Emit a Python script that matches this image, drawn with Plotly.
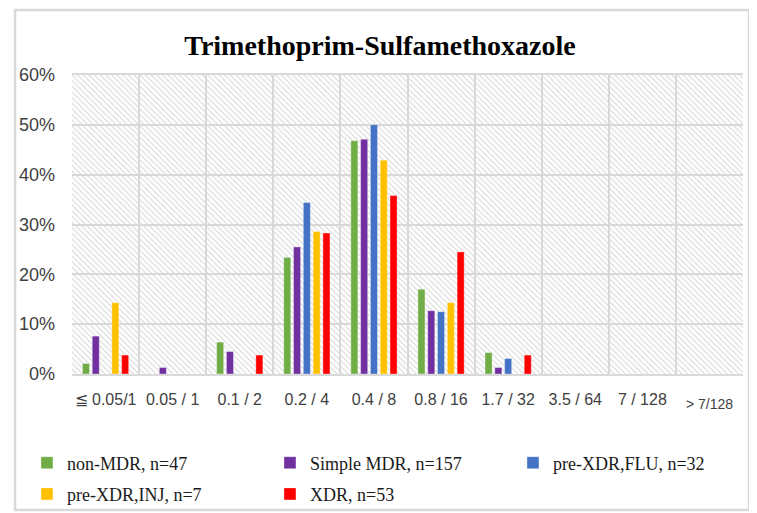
import plotly.graph_objects as go

categories = ["≦ 0.05/1", "0.05 / 1", "0.1 / 2", "0.2 / 4", "0.4 / 8",
              "0.8 / 16", "1.7 / 32", "3.5 / 64", "7 / 128", "> 7/128"]
series_names = ["non-MDR, n=47", "Simple MDR, n=157", "pre-XDR,FLU, n=32",
                "pre-XDR,INJ, n=7", "XDR, n=53"]
non_mdr = [2.1, 0, 6.4, 23.4, 46.8, 17.0, 4.3, 0, 0, 0]
simple_mdr = [7.6, 1.3, 4.5, 25.5, 47.1, 12.7, 1.3, 0, 0, 0]
pre_xdr_flu = [0, 0, 0, 34.4, 50.0, 12.5, 3.1, 0, 0, 0]
pre_xdr_inj = [14.3, 0, 0, 28.6, 42.9, 14.3, 0, 0, 0, 0]
xdr = [3.8, 0, 3.8, 28.3, 35.8, 24.5, 3.8, 0, 0, 0]
y_ticks = [0, 10, 20, 30, 40, 50, 60]

series_values = [non_mdr, simple_mdr, pre_xdr_flu, pre_xdr_inj, xdr]
colors = ["#70AD47", "#7030A0", "#4472C4", "#FFC000", "#FF0000"]
legend_ids = ["legend", "legend", "legend", "legend2", "legend2"]

fig = go.Figure()

# hatched plot-area background (decoration) on the base axes
fig.add_trace(go.Bar(
    x=[0.5], y=[1], width=[1], xaxis="x", yaxis="y",
    marker=dict(color="rgba(0,0,0,0)", line=dict(width=0),
                pattern=dict(shape="\\", fgcolor="#d6d6d6", size=4,
                             solidity=0.28, fillmode="replace")),
    showlegend=False, hoverinfo="skip"))

tick_labels = categories[:-1] + [""]
for name, vals, col, lg in zip(series_names, series_values, colors, legend_ids):
    fig.add_trace(go.Bar(
        x=categories, y=[v / 100 for v in vals], name=name,
        xaxis="x2", yaxis="y2", legend=lg,
        marker=dict(color=col, line=dict(width=0.6, color="rgba(255,255,255,0.6)"))))

fig.add_annotation(
    x=categories[-1], xref="x2", y=-0.1348, yref="paper",
    text=categories[-1], showarrow=False,
    font=dict(family="Liberation Sans", size=14, color="#404040"))

grid_col = "#d9d9d9"
legend_font = dict(family="Liberation Serif", size=18, color="#1a1a1a")
fig.update_layout(
    width=749, height=505,
    margin=dict(l=64, r=14, t=67, b=139, autoexpand=False),
    paper_bgcolor="white", plot_bgcolor="white",
    barmode="group", bargap=0.27, bargroupgap=0.28,
    title=dict(text="<b>Trimethoprim-Sulfamethoxazole</b>",
               font=dict(family="Liberation Serif", size=28, color="black"),
               x=0.4967, xanchor="center", y=0.9267, yref="container", yanchor="middle"),
    xaxis=dict(range=[0, 1], visible=False, fixedrange=True),
    yaxis=dict(range=[0, 1], visible=False, fixedrange=True),
    xaxis2=dict(overlaying="x", anchor="y2", type="category",
                categoryorder="array", categoryarray=categories,
                tickmode="array", tickvals=categories, ticktext=tick_labels,
                tickangle=0, automargin=False,
                tickson="boundaries", showgrid=True, gridcolor=grid_col, gridwidth=1.5,
                showline=True, linecolor=grid_col, linewidth=1.5, mirror=True,
                ticks="", ticklabelstandoff=10,
                tickfont=dict(family="Liberation Sans", size=16, color="#404040")),
    yaxis2=dict(overlaying="y", anchor="x2", range=[0, 0.6], automargin=False,
                tickmode="array", tickvals=[t / 100 for t in y_ticks],
                ticktext=[f"{t}%" for t in y_ticks],
                showgrid=True, gridcolor=grid_col, gridwidth=1.5,
                zeroline=False, showline=False, ticks="", ticklabelstandoff=16,
                tickfont=dict(family="Liberation Sans", size=18, color="#404040")),
    legend=dict(orientation="h", x=-0.0671, xanchor="left", y=-0.2976, yanchor="middle",
                entrywidth=198, entrywidthmode="pixels", bgcolor="rgba(0,0,0,0)",
                font=legend_font),
    legend2=dict(orientation="h", x=-0.0671, xanchor="left", y=-0.402, yanchor="middle",
                 entrywidth=198, entrywidthmode="pixels", bgcolor="rgba(0,0,0,0)",
                 font=legend_font),
    showlegend=True,
)

# outer chart border and neighbouring frame edge (decoration)
fig.add_shape(type="rect", xref="paper", yref="paper",
              x0=-0.0849, x1=1.0089, y0=-0.4548, y1=1.2174,
              line=dict(color=grid_col, width=2.5), layer="below")
fig.add_shape(type="line", xref="paper", yref="paper",
              x0=-0.1013, x1=-0.1013, y0=-0.47, y1=1.2241,
              line=dict(color=grid_col, width=2), layer="below")

fig.write_html("out.html")
